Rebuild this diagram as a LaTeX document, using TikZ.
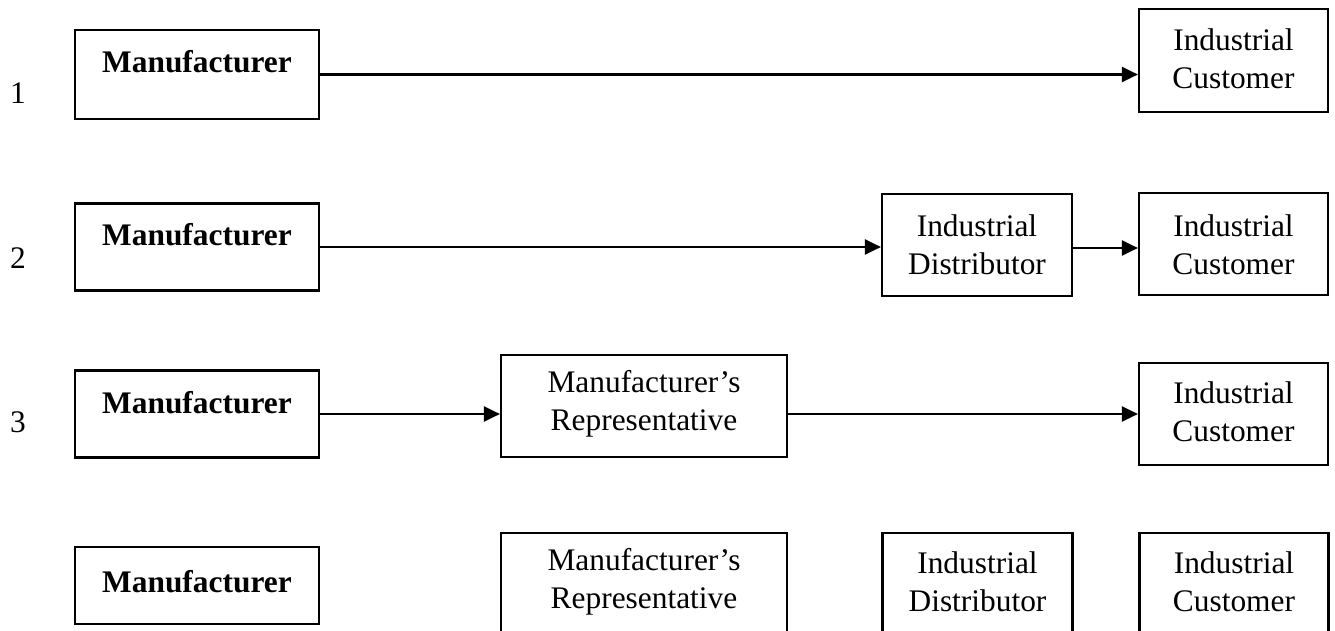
\documentclass[tikz,border=0pt]{standalone}
\usepackage{fontspec}
\setmainfont{Liberation Serif}
\usetikzlibrary{arrows.meta}
\begin{document}
\begin{tikzpicture}[x=0.5pt,y=-0.5pt,
  box/.style={draw=black,line width=1.1pt,rectangle,inner sep=0pt,fill=white},
  txt/.style={inner sep=0pt,align=center,font=\fontsize{15.7}{19}\selectfont},
  btxt/.style={txt,font=\fontsize{15.7}{19}\selectfont\bfseries},
  num/.style={inner sep=0pt,font=\fontsize{15.7}{19}\selectfont},
  flow/.style={line width=1.2pt,-{Triangle[length=8pt,width=7.5pt]}}]
\path[use as bounding box,clip] (0,0) rectangle (1335,631);

% channel numbers
\node[num] (n1) at (18,93) {1};
\node[num] (n2) at (18,258) {2};
\node[num] (n3) at (18,422) {3};

% manufacturer boxes, label set near the top
\node[box,minimum width=122pt,minimum height=44.5pt] (m1) at (197,74.5) {};
\node[btxt] (m1t) at (197,62) {Manufacturer};
\node[box,minimum width=122pt,minimum height=43.5pt] (m2) at (197,247) {};
\node[btxt] (m2t) at (197,235) {Manufacturer};
\node[box,minimum width=122pt,minimum height=43.5pt] (m3) at (197,414) {};
\node[btxt] (m3t) at (197,403) {Manufacturer};
\node[box,minimum width=122pt,minimum height=38.5pt] (m4) at (197,585.5) {};
\node[btxt] (m4t) at (197,582) {Manufacturer};

% channel 1
\node[box,minimum width=94.5pt,minimum height=51.5pt] (c1) at (1233.5,60.5) {};
\node[txt] (c1t) at (1233.5,59) {Industrial\\Customer};

% channel 2
\node[box,minimum width=95pt,minimum height=51pt] (d2) at (977,245) {};
\node[txt] (d2t) at (977,245) {Industrial\\Distributor};
\node[box,minimum width=94.5pt,minimum height=51pt] (c2) at (1233.5,244) {};
\node[txt] (c2t) at (1233.5,245) {Industrial\\Customer};

% channel 3
\node[box,minimum width=143pt,minimum height=51pt] (r3) at (644,406) {};
\node[txt] (r3t) at (644,404) {Manufacturer’s\\Representative};
\node[box,minimum width=94.5pt,minimum height=51pt] (c3) at (1233.5,414) {};
\node[txt] (c3t) at (1233.5,412) {Industrial\\Customer};

% channel 4
\node[box,minimum width=143pt,minimum height=51pt] (r4) at (644,584) {};
\node[txt] (r4t) at (644,582) {Manufacturer’s\\Representative};
\node[box,minimum width=95pt,minimum height=51pt] (d4) at (977.5,584) {};
\node[txt] (d4t) at (977.5,582) {Industrial\\Distributor};
\node[box,minimum width=94.5pt,minimum height=51pt] (c4) at (1234,584) {};
\node[txt] (c4t) at (1234,582) {Industrial\\Customer};

% connectors
\draw[flow] (m1.east) -- (m1.east -| c1.west);
\draw[flow] (m2.east) -- (m2.east -| d2.west);
\draw[flow] ([yshift=-1.5pt]d2.east) -- ([yshift=-1.5pt]d2.east -| c2.west);
\draw[flow] (m3.east) -- (m3.east -| r3.west);
\draw[flow] (c3.west -| r3.east) -- (c3.west);
\end{tikzpicture}
\end{document}
